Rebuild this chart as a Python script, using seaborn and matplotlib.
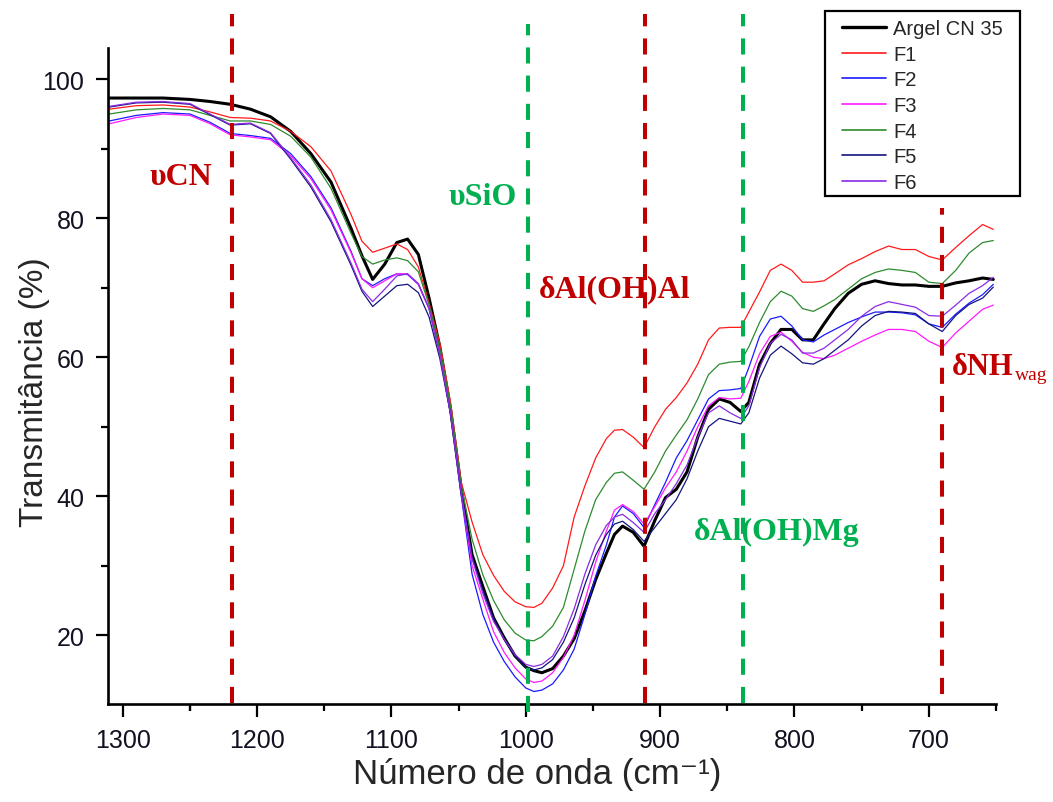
import numpy as np
import pandas as pd
import matplotlib
matplotlib.use("Agg")
import matplotlib.pyplot as plt
from matplotlib.lines import Line2D
from matplotlib.patches import Rectangle
import seaborn as sns

# ---------------- data ----------------
wavenumber = [1310, 1290, 1270, 1250, 1235, 1220, 1205, 1190, 1175, 1160, 1145, 1130,
              1122, 1114, 1105, 1096, 1088, 1080, 1072, 1064, 1056, 1048, 1040, 1032,
              1024, 1016, 1008, 1000, 994, 988, 980, 972, 964, 956, 948, 940, 934, 928,
              920, 912, 904, 896, 888, 880, 872, 864, 856, 848, 840, 834, 826, 818, 810,
              802, 794, 786, 778, 770, 760, 750, 740, 730, 720, 710, 700, 690, 680, 670,
              660, 652]

argel = [97.3, 97.3, 97.3, 97.1, 96.8, 96.4, 95.7, 94.6, 92.5, 89.3, 85.2, 78.5,
         74.6, 71.2, 73.4, 76.5, 77.0, 74.8, 68.5, 61.5, 52.5, 41.0, 31.6, 27.0,
         22.5, 19.6, 17.0, 15.4, 14.9, 14.6, 15.2, 17.0, 19.5, 23.5, 28.0, 31.8, 34.5, 35.7,
         34.8, 32.8, 36.5, 39.8, 41.0, 43.5, 48.5, 52.5, 54.0, 53.5, 52.2, 53.5, 59.0, 62.0, 64.0,
         64.0, 62.5, 62.5, 64.8, 67.0, 69.2, 70.5, 71.0, 70.6, 70.4, 70.4, 70.2, 70.2, 70.7, 71.0,
         71.4, 71.2]

f1 = [95.7, 96.2, 96.3, 96.0, 95.3, 94.5, 94.4, 94.0, 92.5, 90.3, 86.8, 80.5,
      76.7, 75.1, 75.7, 76.3, 75.5, 73.0, 67.8, 62.0, 53.5, 42.0, 36.3, 31.6,
      28.6, 26.3, 24.8, 24.1, 24.0, 24.6, 26.8, 30.0, 37.0, 41.5, 45.5, 48.3, 49.5, 49.6,
      48.5, 47.0, 50.0, 52.5, 54.2, 56.3, 59.0, 62.5, 64.2, 64.3, 64.3, 66.5, 69.4, 72.5, 73.4,
      72.5, 70.8, 70.8, 71.0, 72.0, 73.3, 74.2, 75.2, 76.0, 75.5, 75.5, 74.5, 74.0, 75.8, 77.5,
      79.1, 78.4]

f2 = [94.0, 94.8, 95.2, 95.0, 93.8, 92.2, 91.9, 91.5, 89.3, 86.0, 81.5, 75.2,
      71.3, 70.3, 71.3, 72.0, 71.9, 70.5, 67.0, 60.5, 52.0, 40.0, 28.8, 23.0,
      19.0, 16.2, 14.0, 12.4, 11.9, 12.1, 13.0, 15.0, 18.0, 23.0, 28.5, 33.0, 37.0, 38.6,
      37.5, 35.5, 38.8, 42.0, 45.5, 48.0, 51.0, 54.0, 55.2, 55.3, 55.5, 58.5, 63.0, 65.5, 65.9,
      64.5, 62.5, 62.2, 63.2, 64.0, 65.0, 65.8, 66.5, 66.5, 66.4, 66.1, 64.8, 64.3, 66.2, 67.8,
      69.0, 70.5]

f3 = [93.6, 94.5, 95.0, 94.8, 93.6, 92.0, 91.7, 91.3, 89.0, 85.7, 81.2, 75.0,
      71.3, 70.0, 71.0, 72.0, 72.0, 70.5, 67.0, 60.5, 52.0, 40.3, 30.0, 25.2,
      20.5, 17.5, 15.3, 13.7, 13.2, 13.4, 14.6, 16.8, 20.0, 25.0, 30.5, 35.0, 38.0, 38.8,
      37.8, 36.0, 38.5, 41.2, 43.5, 46.5, 50.0, 53.0, 54.2, 54.0, 54.1, 56.5, 60.5, 63.0, 63.6,
      62.3, 60.7, 60.0, 59.8, 60.3, 61.3, 62.3, 63.2, 64.0, 64.0, 63.7, 62.3, 61.4, 63.5, 65.2,
      66.9, 67.5]

f4 = [95.0, 95.6, 95.8, 95.6, 94.8, 94.0, 94.0, 93.5, 91.8, 88.8, 84.3, 77.8,
      74.5, 73.4, 74.0, 74.3, 73.9, 72.3, 67.5, 61.2, 53.0, 41.5, 33.8, 28.7,
      25.0, 22.2, 20.3, 19.3, 19.2, 19.8, 21.3, 24.0, 29.5, 35.0, 39.5, 42.0, 43.3, 43.5,
      42.3, 41.0, 43.5, 46.5, 48.8, 51.0, 54.0, 57.5, 59.0, 59.3, 59.4, 61.5, 65.0, 68.0, 69.5,
      68.8, 67.0, 66.6, 67.4, 68.3, 69.8, 71.3, 72.2, 72.7, 72.5, 72.2, 70.8, 70.6, 72.5, 75.0,
      76.5, 76.8]

f5 = [96.0, 96.6, 96.7, 96.4, 94.9, 93.4, 93.6, 92.2, 88.5, 84.5, 79.5, 73.2,
      69.5, 67.3, 68.8, 70.3, 70.5, 69.3, 65.8, 59.8, 51.8, 40.5, 31.2, 26.5,
      22.5, 19.3, 17.0, 15.3, 15.0, 15.3, 16.5, 19.0, 22.5, 27.3, 31.5, 34.5, 36.0, 36.4,
      35.2, 33.5, 35.5, 37.5, 39.5, 42.5, 46.5, 50.0, 51.2, 50.8, 50.4, 52.0, 57.0, 60.3, 61.6,
      60.5, 59.2, 59.0, 59.8, 61.0, 62.5, 64.5, 66.0, 66.6, 66.5, 66.3, 64.8, 63.7, 66.0, 67.6,
      68.5, 70.1]

f6 = [96.1, 96.7, 96.8, 96.5, 95.0, 93.5, 93.7, 92.3, 88.7, 84.8, 79.8, 73.5,
      69.8, 68.0, 69.8, 71.7, 72.0, 70.6, 67.0, 60.3, 51.8, 40.5, 31.0, 26.0,
      22.0, 19.4, 17.2, 15.8, 15.5, 15.8, 17.0, 19.8, 23.8, 28.8, 33.0, 35.8, 37.0, 37.4,
      36.2, 34.8, 37.5, 39.5, 41.8, 44.5, 48.5, 52.0, 53.0, 52.0, 51.2, 53.0, 58.5, 62.0, 63.3,
      62.5, 60.6, 60.6, 61.3, 62.5, 64.0, 65.9, 67.3, 68.0, 67.6, 67.2, 66.0, 65.9, 67.5, 69.2,
      70.3, 71.5]

series_names = ["Argel CN 35", "F1", "F2", "F3", "F4", "F5", "F6"]
series_values = [argel, f1, f2, f3, f4, f5, f6]
series_colors = ["#000000", "#FF1A1A", "#1A1AFF", "#FF1AFF", "#2E8B2E", "#14147F", "#8A2BE2"]
series_widths = [2.2, 0.9, 0.9, 0.9, 0.9, 0.9, 0.9]

x_ticks = [1300, 1200, 1100, 1000, 900, 800, 700]
y_ticks = [20, 40, 60, 80, 100]

band_positions = [1219, 998, 911, 838, 690]
band_colors = ["#C00000", "#00B050", "#C00000", "#00B050", "#C00000"]
band_tops = [109.4, 108.0, 109.4, 109.4, 81.5]
band_bottoms = [10.3, 8.9, 10.3, 10.3, 11.5]

band_labels = ["υCN", "υSiO", "δAl(OH)Al", "δAl(OH)Mg"]
band_label_x = [1257, 1032, 934, 813]
band_label_y = [86.0, 83.2, 69.8, 35.0]
band_label_colors = ["#C00000", "#00B050", "#C00000", "#00B050"]

# ---------------- style ----------------
sns.set_style("ticks")
plt.rcParams["font.family"] = ["Liberation Sans", "DejaVu Sans"]

W, H = 1053, 803
fig = plt.figure(figsize=(W / 100, H / 100), dpi=100)
ax = fig.add_axes([108 / W, 1 - 705 / H, (996 - 108) / W, (705 - 49) / H])

handles = []
for name, vals, col, lw in zip(series_names, series_values, series_colors, series_widths):
    df = pd.DataFrame({"wn": wavenumber, "T": vals})
    sns.lineplot(data=df, x="wn", y="T", color=col, linewidth=lw, ax=ax, legend=False)
    handles.append(Line2D([], [], color=col, linewidth=2.4 if lw > 1 else 1.2, label=name))

ax.set_xlim(1311, 650)
ax.set_ylim(10.1, 104.5)

for xpos, col, top, bot in zip(band_positions, band_colors, band_tops, band_bottoms):
    ax.plot([xpos, xpos], [bot, top], color=col, linewidth=2.9,
            linestyle=(0, (4, 3)), clip_on=False, zorder=5)

serif = ["Liberation Serif", "DejaVu Serif"]
for txt, xx, yy, col in zip(band_labels, band_label_x, band_label_y, band_label_colors):
    ax.text(xx, yy, txt, color=col, fontsize=23, fontweight="bold",
            family=serif, ha="center", va="center")

nh = ax.text(683, 58.7, "δNH", color="#C00000", fontsize=22, fontweight="bold",
             family=serif, ha="left", va="center")
ax.annotate("wag", xy=(1.0, 0.12), xycoords=nh, ha="left", va="bottom",
            color="#C00000", fontsize=14, family=serif,
            xytext=(1, -4), textcoords="offset points", annotation_clip=False)

ax.set_xticks(x_ticks)
ax.set_yticks(y_ticks)
ax.set_xticks([t - 50 for t in x_ticks] + [1250], minor=True)
ax.set_yticks([30, 50, 70, 90], minor=True)
ax.tick_params(axis="both", which="major", direction="out", length=9, width=1.6,
               labelsize=18, pad=8, color="black", labelcolor="#111122")
ax.tick_params(axis="both", which="minor", direction="out", length=5, width=1.6, color="black")

sns.despine(ax=ax)
for sp in ["left", "bottom"]:
    ax.spines[sp].set_linewidth(1.9)
    ax.spines[sp].set_color("black")

ax.set_xlabel("Número de onda (cm⁻¹)", fontsize=25)
ax.set_ylabel("Transmitância (%)", fontsize=24)
ax.xaxis.set_label_coords((537 - 108) / 888, (705 - 758) / 656)
ax.yaxis.set_label_coords((50 - 108) / 888, (705 - 392) / 656)
ax.grid(False)

# legend: frame drawn as a figure rectangle, entries placed inside it
box_l, box_r, box_t, box_b = 825, 1020, 12, 197
fig.patches.append(Rectangle((box_l / W, 1 - box_b / H), (box_r - box_l) / W, (box_b - box_t) / H,
                             transform=fig.transFigure, facecolor="white", edgecolor="black",
                             linewidth=1.6, zorder=10))
leg = fig.legend(handles=handles, loc="upper left",
                 bbox_to_anchor=(842 / W, 1 - 20 / H), bbox_transform=fig.transFigure,
                 fontsize=14.5, frameon=False,
                 handlelength=2.2, handletextpad=0.35, labelspacing=0.33,
                 borderpad=0, borderaxespad=0)
leg.set_zorder(11)

fig.savefig("out.png", dpi=100, facecolor="white")
